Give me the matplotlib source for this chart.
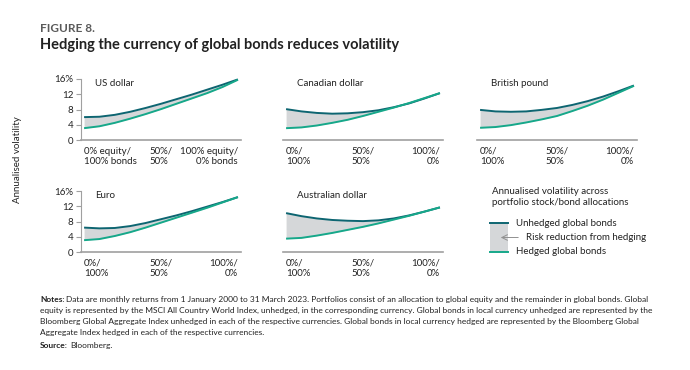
import matplotlib.pyplot as plt
from matplotlib.patches import Rectangle

# --- Data (annualised volatility, %) ---
equity_share = [0, 10, 20, 30, 40, 50, 60, 70, 80, 90, 100]

usd_unhedged = [6.0, 6.1, 6.6, 7.4, 8.4, 9.5, 10.7, 11.9, 13.2, 14.5, 15.9]
usd_hedged = [3.1, 3.6, 4.5, 5.6, 6.8, 8.1, 9.5, 10.9, 12.3, 13.9, 15.8]

cad_unhedged = [8.1, 7.5, 7.1, 6.9, 7.0, 7.3, 7.8, 8.6, 9.6, 10.9, 12.3]
cad_hedged = [3.1, 3.3, 3.8, 4.5, 5.3, 6.3, 7.4, 8.5, 9.7, 11.0, 12.3]

gbp_unhedged = [7.9, 7.5, 7.4, 7.5, 7.9, 8.4, 9.2, 10.2, 11.4, 12.8, 14.3]
gbp_hedged = [3.2, 3.4, 3.9, 4.6, 5.4, 6.3, 7.6, 9.0, 10.6, 12.4, 14.2]

eur_unhedged = [6.4, 6.2, 6.3, 6.8, 7.6, 8.6, 9.6, 10.7, 11.9, 13.1, 14.4]
eur_hedged = [3.1, 3.4, 4.2, 5.2, 6.4, 7.7, 9.0, 10.3, 11.6, 13.0, 14.4]

aud_unhedged = [10.2, 9.4, 8.8, 8.4, 8.2, 8.1, 8.3, 8.8, 9.6, 10.6, 11.7]
aud_hedged = [3.5, 3.7, 4.3, 5.0, 5.8, 6.6, 7.5, 8.5, 9.5, 10.6, 11.7]

panel_names = ["US dollar", "Canadian dollar", "British pound", "Euro", "Australian dollar"]
y_ticks = [0, 4, 8, 12, 16]
y_labels = ["0", "4", "8", "12", "16%"]
us_xlabels = ["0% equity/\n100% bonds", "50%/\n50%", "100% equity/\n0% bonds"]
xlabels = ["0%/\n100%", "50%/\n50%", "100%/\n0%"]

UNHEDGED = "#0d6571"
HEDGED = "#16a88a"
FILL = "#d5d7d9"
AXIS = "#a0a0a0"
TEXT = "#222222"

plt.rcParams['font.family'] = ['Lato', 'DejaVu Sans']

W, H = 690, 370
fig = plt.figure(figsize=(W / 100, H / 100), dpi=100)


def px_axes(left, top, right, bottom):
    return fig.add_axes([left / W, 1 - bottom / H, (right - left) / W, (bottom - top) / H])


def draw_panel(ax, name, unhedged, hedged, labels, show_y):
    ax.fill_between(equity_share, hedged, unhedged, color=FILL, lw=0)
    ax.plot(equity_share, unhedged, color=UNHEDGED, lw=1.4, clip_on=False, solid_capstyle='butt')
    ax.plot(equity_share, hedged, color=HEDGED, lw=1.4, clip_on=False, solid_capstyle='butt')
    ax.set_xlim(-2, 102)
    ax.set_ylim(0, 16)
    for s in ["top", "right"]:
        ax.spines[s].set_visible(False)
    ax.spines["bottom"].set_color(AXIS)
    ax.spines["bottom"].set_linewidth(1.2)
    ax.set_xticks([0, 50, 100])
    ax.set_xticklabels(labels, fontsize=7, color=TEXT, linespacing=1.15)
    ax.tick_params(axis="x", length=0, pad=5)
    tl = ax.get_xticklabels()
    tl[0].set_ha("left")
    tl[0].set_multialignment("left")
    tl[1].set_ha("center")
    tl[1].set_multialignment("left")
    tl[2].set_ha("right")
    tl[2].set_multialignment("right")
    if show_y:
        ax.spines["left"].set_color(AXIS)
        ax.spines["left"].set_linewidth(0.8)
        ax.set_yticks(y_ticks)
        ax.set_yticklabels(y_labels, fontsize=7, color=TEXT)
        ax.tick_params(axis="y", length=3.5, width=0.8, color=AXIS, pad=2)
    else:
        ax.spines["left"].set_visible(False)
        ax.set_yticks([])
    ax.text(0.09, 0.93, name, transform=ax.transAxes, fontsize=7, color=TEXT, va="center")
    ax.patch.set_alpha(0)


series = [(usd_unhedged, usd_hedged), (cad_unhedged, cad_hedged), (gbp_unhedged, gbp_hedged),
          (eur_unhedged, eur_hedged), (aud_unhedged, aud_hedged)]
boxes = [(81, 79, 241, 140), (283, 79, 443, 140), (477, 79, 637, 140),
         (81, 191, 241, 252), (283, 191, 443, 252)]

for i, (name, (u, h), box) in enumerate(zip(panel_names, series, boxes)):
    ax = px_axes(*box)
    draw_panel(ax, name, u, h, us_xlabels if i == 0 else xlabels, box[0] == 81)

# titles
fig.text(40 / W, 1 - 28 / H, "FIGURE 8.", fontsize=8.5, fontweight="bold", color="#5a5a5a", va="center")
fig.text(40 / W, 1 - 45 / H, "Hedging the currency of global bonds reduces volatility",
         fontsize=10.5, fontweight="bold", color=TEXT, va="center")

fig.text(18 / W, 1 - 160 / H, "Annualised volatility", rotation=90, fontsize=7, color=TEXT,
         ha="center", va="center")

# legend
lax = fig.add_axes([0, 0, 1, 1])
lax.set_xlim(0, W)
lax.set_ylim(H, 0)
lax.axis("off")
lax.text(492, 197, "Annualised volatility across\nportfolio stock/bond allocations",
         fontsize=7, color=TEXT, va="center", linespacing=1.25)
lax.add_patch(Rectangle((490, 223), 18, 29, color=FILL, lw=0))
lax.plot([490, 508], [223, 223], color=UNHEDGED, lw=1.4)
lax.plot([490, 508], [252, 252], color=HEDGED, lw=1.4)
lax.annotate("", xy=(498, 237.5), xytext=(521, 237.5),
             arrowprops=dict(arrowstyle="->", color="#909090", lw=0.7))
lax.text(516, 223, "Unhedged global bonds", fontsize=7, color=TEXT, va="center")
lax.text(526, 237.5, "Risk reduction from hedging", fontsize=7, color=TEXT, va="center")
lax.text(516, 251, "Hedged global bonds", fontsize=7, color=TEXT, va="center")

# notes (baselines, in pixels from top)
notes = [
    "Data are monthly returns from 1 January 2000 to 31 March 2023. Portfolios consist of an allocation to global equity and the remainder in global bonds. Global",
    "equity is represented by the MSCI All Country World Index, unhedged, in the corresponding currency. Global bonds in local currency unhedged are represented by the",
    "Bloomberg Global Aggregate Index unhedged in each of the respective currencies. Global bonds in local currency hedged are represented by the Bloomberg Global",
    "Aggregate Index hedged in each of the respective currencies.",
]
note_y = [302, 313, 324, 335]
NOTE_FS = 6.0
renderer = fig.canvas.get_renderer()


def bold_then_plain(x, y, head, body):
    t = lax.text(x, y, head, fontsize=NOTE_FS, fontweight="bold", color=TEXT, va="baseline")
    w = t.get_window_extent(renderer).width
    lax.text(x + w + 2, y, body, fontsize=NOTE_FS, color=TEXT, va="baseline")


bold_then_plain(40, note_y[0], "Notes:", notes[0])
for line, y in zip(notes[1:], note_y[1:]):
    lax.text(40, y, line, fontsize=NOTE_FS, color=TEXT, va="baseline")
bold_then_plain(40, 348, "Source:", "Bloomberg.")

fig.savefig("out.png", dpi=100)
